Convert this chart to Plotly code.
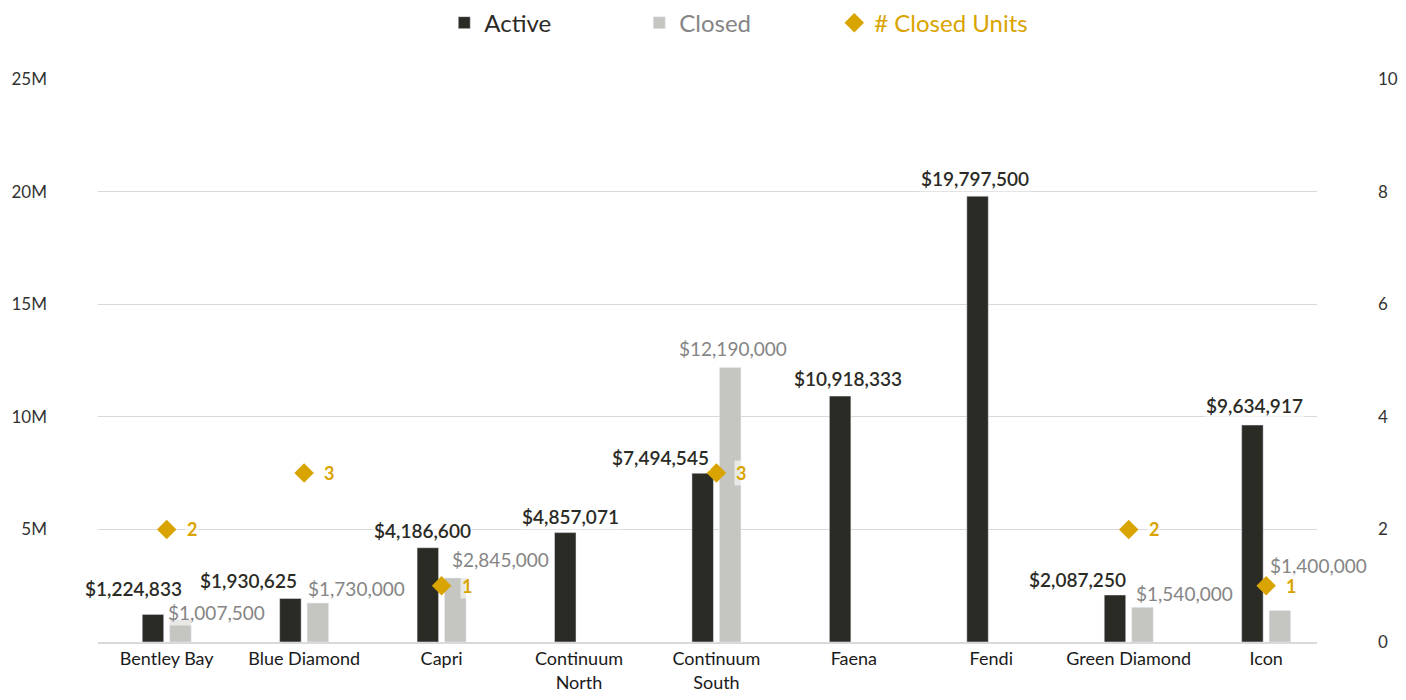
import plotly.graph_objects as go

categories = ["Bentley Bay", "Blue Diamond", "Capri", "Continuum<br>North", "Continuum<br>South",
              "Faena", "Fendi", "Green Diamond", "Icon"]
active = [1224833, 1930625, 4186600, 4857071, 7494545, 10918333, 19797500, 2087250, 9634917]
closed = [1007500, 1730000, 2845000, None, 12190000, None, None, 1540000, 1400000]
closed_units = [2, 3, 1, None, 3, None, None, 2, 1]

left_tickvals = [5e6, 10e6, 15e6, 20e6, 25e6]
left_ticktext = ["5M", "10M", "15M", "20M", "25M"]
right_tickvals = [0, 2, 4, 6, 8, 10]

# label offsets in px (style only)
active_dx = [-33, -56, -19, -9, -56, -6, -16, -51, -12]
active_dy = [26, 18, 17, 16, 16, 18, 18, 16, 20]
closed_dx = [50, 52, 59, 0, 17, 0, 0, 56, 52]
closed_dy = [7, 15, 18, 0, 19, 0, 0, 14, 45]
units_dx = 25

C_ACTIVE = "#2b2b26"
C_CLOSED = "#c5c6c1"
C_CLOSED_TXT = "#858585"
C_GOLD = "#d9a400"
FONT = "Lato"

fig = go.Figure()
fig.add_trace(go.Bar(x=categories, y=active, name="Active", marker_color=C_ACTIVE))
fig.add_trace(go.Bar(x=categories, y=closed, name=f"<span style='color:{C_CLOSED_TXT}'>Closed</span>",
                     marker_color=C_CLOSED))
fig.add_trace(go.Scatter(x=categories, y=closed_units, name=f"<span style='color:{C_GOLD}'># Closed Units</span>",
                         mode="markers", yaxis="y2",
                         marker=dict(symbol="diamond", size=15, color=C_GOLD)))

ann = []
for i, c in enumerate(categories):
    v = active[i]
    ann.append(dict(x=c, y=v, xref="x", yref="y", text=f"${v:,.0f}", showarrow=False,
                    xshift=active_dx[i], yshift=active_dy[i], yanchor="middle",
                    font=dict(family=FONT, size=19, color=C_ACTIVE, weight=600),
                    bgcolor="rgba(255,255,255,0.6)"))
    v = closed[i]
    if v is not None:
        ann.append(dict(x=c, y=v, xref="x", yref="y", text=f"${v:,.0f}", showarrow=False,
                        xshift=closed_dx[i], yshift=closed_dy[i], yanchor="middle",
                        font=dict(family=FONT, size=19, color=C_CLOSED_TXT),
                        bgcolor="rgba(255,255,255,0.6)"))
    u = closed_units[i]
    if u is not None:
        ann.append(dict(x=c, y=u, xref="x", yref="y2", text=str(u), showarrow=False,
                        xshift=units_dx, yanchor="middle",
                        font=dict(family=FONT, size=18, color=C_GOLD, weight=700),
                        bgcolor="rgba(255,255,255,0.6)"))

# page body has an 8px margin, so the figure is sized to fit the window without scrolling
fig.update_layout(
    width=1390, height=684,
    margin=dict(l=89.5, r=81, t=71, b=50),
    paper_bgcolor="white", plot_bgcolor="white",
    font=dict(family=FONT, size=16, color="#222222"),
    barmode="group", bargap=0.6, bargroupgap=0.218,
    showlegend=True,
    legend=dict(orientation="h", x=0.524, xanchor="center", y=0.978, yref="container", yanchor="middle",
                font=dict(family=FONT, size=24, color=C_ACTIVE), entrywidth=150, itemwidth=30),
    xaxis=dict(range=[-0.5, 8.37], showgrid=False, showline=True, linecolor="#d9d9d9", linewidth=1.5,
               automargin=False, tickfont=dict(family=FONT, size=18, color="#1a1a1a"), ticks=""),
    yaxis=dict(range=[0, 25e6], tickvals=left_tickvals, ticktext=left_ticktext, automargin=False,
               showgrid=True, gridcolor="#d9d9d9", zeroline=False,
               tickfont=dict(family=FONT, size=17, color="#333333"), ticklabelstandoff=50),
    yaxis2=dict(range=[0, 10], tickvals=right_tickvals, overlaying="y", side="right", automargin=False,
                showgrid=False, zeroline=False,
                tickfont=dict(family=FONT, size=17, color="#333333"), ticklabelstandoff=60),
    annotations=ann,
)

fig.write_html("out.html")
